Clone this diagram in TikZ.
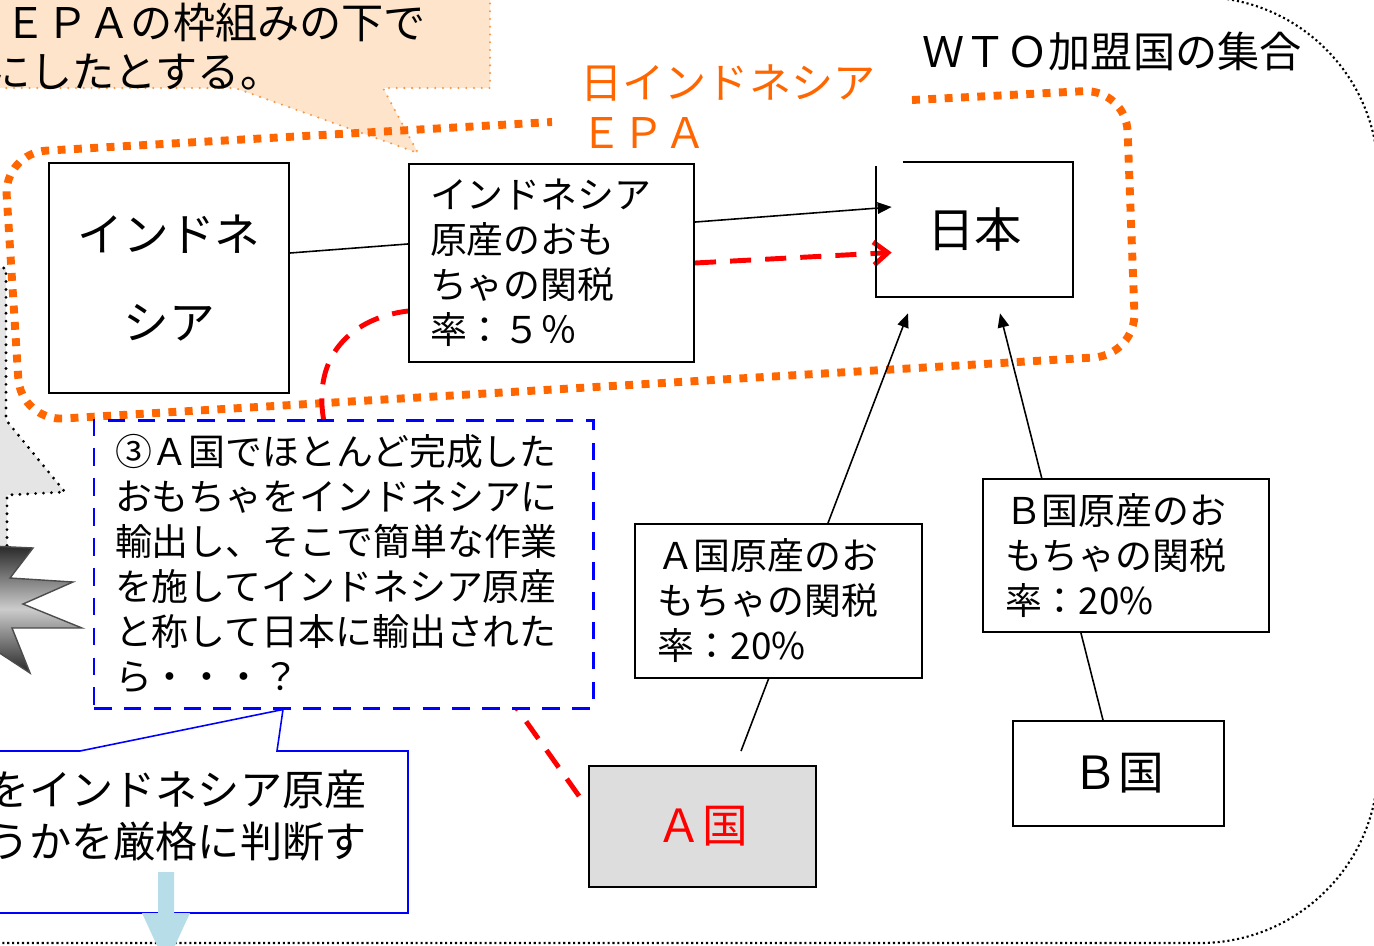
\documentclass[tikz,border=0pt]{standalone}
\usepackage{fontspec}
\setmainfont{Noto Sans CJK JP}
\usetikzlibrary{arrows.meta}

\definecolor{epaorange}{RGB}{255,102,0}
\definecolor{notepeach}{RGB}{253,228,202}
\definecolor{notedots}{RGB}{247,150,70}
\definecolor{arrowblue}{RGB}{183,222,232}
\definecolor{akokugray}{RGB}{221,221,221}

\pgfdeclarelayer{frames}
\pgfdeclarelayer{links}
\pgfsetlayers{frames,links,main}

\tikzset{
  plainbox/.style={draw, line width=1.1pt, fill=white, inner sep=0pt},
  ratebox/.style={plainbox, align=left, inner ysep=0pt, font=\fontsize{21pt}{25.6pt}\selectfont},
  countrybox/.style={plainbox, font=\fontsize{26pt}{30pt}\selectfont},
  link/.style={line width=0.9pt, -{Triangle[length=8pt,width=6.5pt]}},
  redline/.style={red, line width=2.8pt, dash pattern=on 12pt off 8pt},
  redlink/.style={redline, -{Straight Barb[length=8pt,width=13pt]}},
  epaframe/.style={epaorange, line width=4.5pt, dash pattern=on 4.5pt off 4.8pt, rounded corners=0.85cm},
  wtoframe/.style={line width=1.2pt, dash pattern=on 1.2pt off 1.6pt, rounded corners=3.56cm},
}

\begin{document}
\begin{tikzpicture}
  \useasboundingbox (0cm,0cm) rectangle (27.48cm,-18.9cm);
  \clip (0cm,0cm) rectangle (27.48cm,-18.9cm);

  \begin{pgfonlayer}{frames}
    \clip (0cm,0cm) rectangle (27.48cm,-18.9cm);
    \draw[wtoframe] (-6cm,0.06cm) rectangle (27.56cm,-18.86cm);
    \filldraw[fill=gray!20, draw=black, line width=1.8pt, line cap=round, dash pattern=on 0pt off 4.5pt]
      (-0.4cm,-5.36cm) -- (0.12cm,-5.36cm) -- (0.12cm,-8.4cm) -- (1.3cm,-9.84cm) -- (0.14cm,-9.9cm)
      -- (0.14cm,-11.4cm) -- (-0.4cm,-11.4cm) -- cycle;
    \shadedraw[draw=black!70, line width=0.8pt, top color=black!85, bottom color=black!85, middle color=black!20]
      (-0.6cm,-10.9cm) -- (0.66cm,-10.96cm) -- (0.2cm,-11.56cm) -- (1.46cm,-11.64cm) -- (0.46cm,-12.08cm)
      -- (1.64cm,-12.56cm) -- (0.24cm,-12.56cm) -- (0.6cm,-13.46cm) -- (-0.1cm,-13cm) -- (-0.6cm,-13.2cm) -- cycle;
    \filldraw[fill=notepeach, draw=notedots, line width=1.3pt, line cap=round, dash pattern=on 0pt off 4.4pt]
      (-0.4cm,0.4cm) -- (9.8cm,0.4cm) -- (9.8cm,-1.76cm) -- (7.66cm,-1.76cm) -- (8.36cm,-3.06cm)
      -- (4.7cm,-1.76cm) -- (-0.4cm,-1.76cm) -- cycle;
    \draw[epaframe] (18.24cm,-2cm) -- (22.52cm,-1.78cm) -- (22.72cm,-7.1cm) -- (0.42cm,-8.42cm)
      -- (0.08cm,-3.06cm) -- (11.04cm,-2.44cm);
  \end{pgfonlayer}

  \node[anchor=west, inner sep=0pt, font=\fontsize{24pt}{28pt}\selectfont] (note1) at (0.08cm,-0.45cm) {ＥＰＡの枠組みの下で};
  \node[anchor=west, inner sep=0pt, font=\fontsize{24pt}{28pt}\selectfont] (note2) at (-0.24cm,-1.44cm) {にしたとする。};
  \node[anchor=west, align=left, inner sep=0pt, text=epaorange, font=\fontsize{24pt}{28.4pt}\selectfont] (epalabel) at (11.6cm,-2.14cm) {日インドネシア\\ＥＰＡ};
  \node[inner sep=0pt, font=\fontsize{24pt}{28pt}\selectfont] (wtolabel) at (22.24cm,-1.02cm) {ＷＴＯ加盟国の集合};

  \node[countrybox, align=center, minimum width=4.8cm, minimum height=4.6cm, font=\fontsize{26pt}{50pt}\selectfont] (indonesia) at (3.38cm,-5.56cm) {インドネ\\シア};
  \node[ratebox, text width=4.86cm, inner xsep=0.42cm, minimum height=3.96cm] (inrate) at (11.03cm,-5.26cm) {インドネシア\\原産のおも\\ちゃの関税\\率：５％};
  \node[inner sep=0pt, minimum width=3.94cm, minimum height=2.7cm, font=\fontsize{27pt}{30pt}\selectfont] (japan) at (19.49cm,-4.59cm) {日本};
  \draw[line width=1.1pt] ([xshift=0.54cm]japan.north west) -- (japan.north east) -- (japan.south east) -- (japan.south west) -- ++(0cm,2.62cm);
  \node[ratebox, text width=4.86cm, inner xsep=0.44cm, minimum height=3.08cm] (arate) at (15.57cm,-12.02cm) {Ａ国原産のお\\もちゃの関税\\率：20\%};
  \node[ratebox, text width=4.84cm, inner xsep=0.44cm, minimum height=3.06cm] (brate) at (22.52cm,-11.11cm) {Ｂ国原産のお\\もちゃの関税\\率：20\%};
  \node[countrybox, fill=akokugray, text=red, minimum width=4.54cm, minimum height=2.42cm] (akoku) at (14.05cm,-16.53cm) {Ａ国};
  \node[countrybox, minimum width=4.22cm, minimum height=2.1cm] (bkoku) at (22.37cm,-15.47cm) {Ｂ国};

  \begin{pgfonlayer}{links}
    \draw[link] ([yshift=0.5cm]indonesia.east) -- ([xshift=0.32cm,yshift=0.45cm]japan.west);
    \draw[link] ([xshift=0.77cm,yshift=0.28cm]akoku.north) -- ([xshift=-1.33cm,yshift=-0.32cm]japan.south);
    \draw[link] ([xshift=-0.31cm]bkoku.north) -- ([xshift=0.51cm,yshift=-0.32cm]japan.south);
    \draw[redline] ([xshift=-0.18cm,yshift=-0.62cm]akoku.north west) -- (6.6cm,-8.9cm)
      .. controls (6.04cm,-7.2cm) and (7cm,-6.36cm) .. ([yshift=-0.96cm]inrate.west);
    \draw[redlink] (inrate.east) -- ([xshift=0.32cm,yshift=-0.46cm]japan.west);
  \end{pgfonlayer}

  \node[draw=blue, line width=1.7pt, dash pattern=on 10pt off 7pt, fill=white, text width=9.14cm, inner xsep=0.42cm, inner ysep=0pt,
        minimum height=5.76cm, align=left, font=\fontsize{21pt}{25.6pt}\selectfont] (story) at (6.87cm,-11.28cm)
    {③Ａ国でほとんど完成した\\おもちゃをインドネシアに\\輸出し、そこで簡単な作業\\を施してインドネシア原産\\と称して日本に輸出された\\ら・・・？};

  \filldraw[fill=white, draw=blue, line width=0.9pt] (-0.4cm,-15.02cm) -- (1.6cm,-15.02cm) -- ([xshift=-1.21cm]story.south)
    -- (5.54cm,-15.02cm) -- (8.16cm,-15.02cm) -- (8.16cm,-18.26cm) -- (-0.4cm,-18.26cm) -- cycle;
  \node[anchor=east, align=right, inner sep=0pt, font=\fontsize{24pt}{29.6pt}\selectfont] (check) at (7.34cm,-16.32cm) {をインドネシア原産\\うかを厳格に判断す};
  \fill[arrowblue] (3.16cm,-17.44cm) -- (3.48cm,-17.44cm) -- (3.48cm,-18.26cm) -- (3.8cm,-18.26cm) -- (3.32cm,-19.3cm)
    -- (2.84cm,-18.26cm) -- (3.16cm,-18.26cm) -- cycle;
\end{tikzpicture}
\end{document}
